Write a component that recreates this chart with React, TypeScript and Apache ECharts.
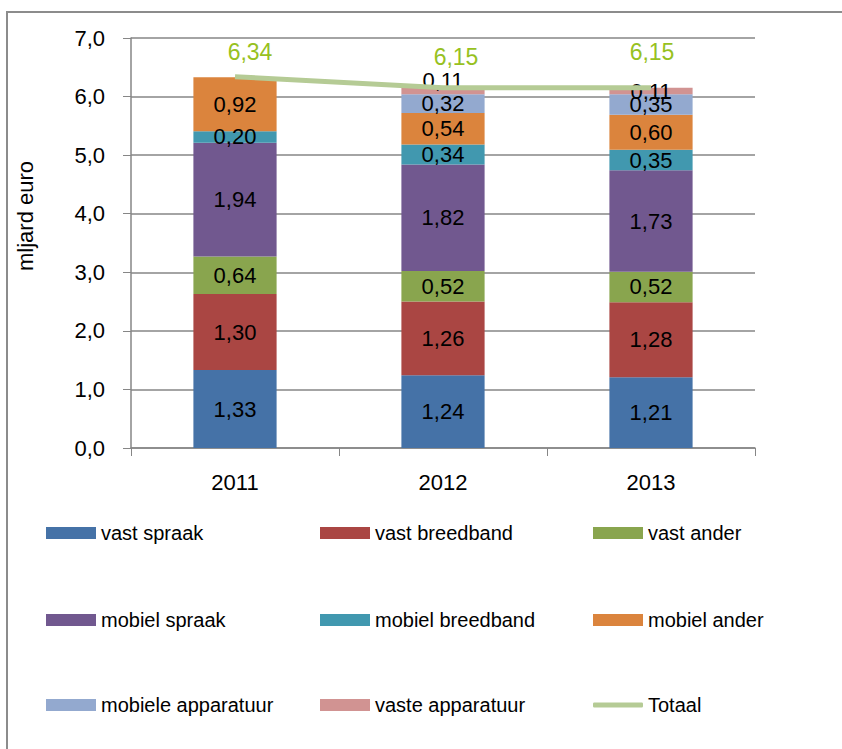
import React, { useEffect, useRef } from "react";
import * as echarts from "echarts";

const categories = ["2011", "2012", "2013"];
const vastSpraak = [1.33, 1.24, 1.21];
const vastBreedband = [1.3, 1.26, 1.28];
const vastAnder = [0.64, 0.52, 0.52];
const mobielSpraak = [1.94, 1.82, 1.73];
const mobielBreedband = [0.2, 0.34, 0.35];
const mobielAnder = [0.92, 0.54, 0.6];
const mobieleApparatuur = [null, 0.32, 0.35];
const vasteApparatuur = [null, 0.11, 0.11];
const totaal = [6.34, 6.15, 6.15];
const yTicks = [0, 1, 2, 3, 4, 5, 6, 7];

const FONT = "Liberation Sans";

const barSeriesDefs = [
  { name: "vast spraak", data: vastSpraak, color: "#4572A7" },
  { name: "vast breedband", data: vastBreedband, color: "#AA4643" },
  { name: "vast ander", data: vastAnder, color: "#89A54E" },
  { name: "mobiel spraak", data: mobielSpraak, color: "#71588F" },
  { name: "mobiel breedband", data: mobielBreedband, color: "#4198AF" },
  { name: "mobiel ander", data: mobielAnder, color: "#DB843D" },
  { name: "mobiele apparatuur", data: mobieleApparatuur, color: "#93A9CF" },
  { name: "vaste apparatuur", data: vasteApparatuur, color: "#D19392" },
];

const fmt = (v: any) => {
  const n = typeof v === "object" && v !== null ? v.value : v;
  return n == null ? "" : Number(n).toFixed(2).replace(".", ",");
};

export default function App() {
  const ref = useRef<HTMLDivElement>(null);
  useEffect(() => {
    if (!ref.current) return;
    const chart = echarts.init(ref.current, null, { renderer: "svg" });

    const barLabel = {
      show: true,
      position: "inside",
      color: "#000",
      fontFamily: FONT,
      fontSize: 22,
      formatter: (p: any) => fmt(p.value),
    };

    const series: any[] = barSeriesDefs.map((s) => ({
      name: s.name,
      type: "bar",
      stack: "total",
      barWidth: "40%",
      itemStyle: { color: s.color },
      data: s.data.map((v, i) => {
        if (s.name === "vaste apparatuur" && i === 1) {
          return { value: v, label: { ...barLabel, offset: [0, -11] } };
        }
        return v;
      }),
      label: barLabel,
    }));

    const totalOffsets = [
      [15, 0],
      [13, -6],
      [1, -11],
    ];
    const totLabel = {
      show: true,
      position: "top",
      distance: 13,
      color: "#97C11F",
      fontFamily: FONT,
      fontSize: 23,
      formatter: (p: any) => fmt(p.value),
    };
    series.push({
      name: "Totaal",
      type: "line",
      showSymbol: true,
      symbol: "circle",
      symbolSize: 0.01,
      itemStyle: { color: "#B5CB95" },
      lineStyle: { color: "#B5CB95", width: 5 },
      data: totaal.map((v, i) => ({
        value: v,
        label: { ...totLabel, offset: totalOffsets[i] },
      })),
      label: totLabel,
      z: 5,
    });

    const legendPos = [
      ["vast spraak", 46, 523],
      ["vast breedband", 320, 523],
      ["vast ander", 593, 523],
      ["mobiel spraak", 46, 610],
      ["mobiel breedband", 320, 610],
      ["mobiel ander", 593, 610],
      ["mobiele apparatuur", 46, 695],
      ["vaste apparatuur", 320, 695],
      ["Totaal", 593, 695],
    ];
    const legends = legendPos.map(([name, x, y]) => ({
      left: x as number,
      top: y as number,
      padding: 0,
      itemWidth: 50,
      itemHeight: name === "Totaal" ? 5 : 12,
      itemGap: 5,
      textStyle: { fontFamily: FONT, fontSize: 20, color: "#000" },
      data:
        name === "Totaal"
          ? [{ name, icon: "roundRect" }]
          : [{ name, icon: "rect" }],
      selectedMode: false,
    }));

    chart.setOption({
      animation: false,
      backgroundColor: "#fff",
      grid: { left: 131, top: 38, width: 624, height: 410 },
      legend: legends,
      xAxis: {
        type: "category",
        data: categories,
        axisLine: { lineStyle: { color: "#868686", width: 1.5 } },
        axisTick: { show: true, length: 8, lineStyle: { color: "#868686" } },
        axisLabel: {
          color: "#000",
          fontFamily: FONT,
          fontSize: 22,
          margin: 23,
        },
      },
      yAxis: {
        type: "value",
        min: yTicks[0],
        max: yTicks[yTicks.length - 1],
        interval: 1,
        axisLine: { show: true, lineStyle: { color: "#868686", width: 1.5 } },
        axisTick: { show: true, length: 8, lineStyle: { color: "#868686" } },
        splitLine: { lineStyle: { color: "#868686", width: 1.5 } },
        axisLabel: {
          color: "#000",
          fontFamily: FONT,
          fontSize: 22,
          margin: 26,
          formatter: (v: number) => v.toFixed(1).replace(".", ","),
        },
      },
      graphic: [
        {
          type: "rect",
          shape: { x: 7, y: 12, width: 900, height: 800 },
          style: { fill: "none", stroke: "#8C8C8C", lineWidth: 2 },
          silent: true,
        },
        {
          type: "text",
          x: 25,
          y: 216,
          rotation: Math.PI / 2,
          style: {
            text: "mljard euro",
            fontFamily: FONT,
            fontSize: 22,
            fill: "#000",
            textAlign: "center",
            textVerticalAlign: "middle",
          },
        },
      ],
      series,
    });
    return () => chart.dispose();
  }, []);
  return (
    <div
      ref={ref}
      style={{ position: "absolute", left: 0, top: 0, width: 842, height: 749 }}
    />
  );
}
